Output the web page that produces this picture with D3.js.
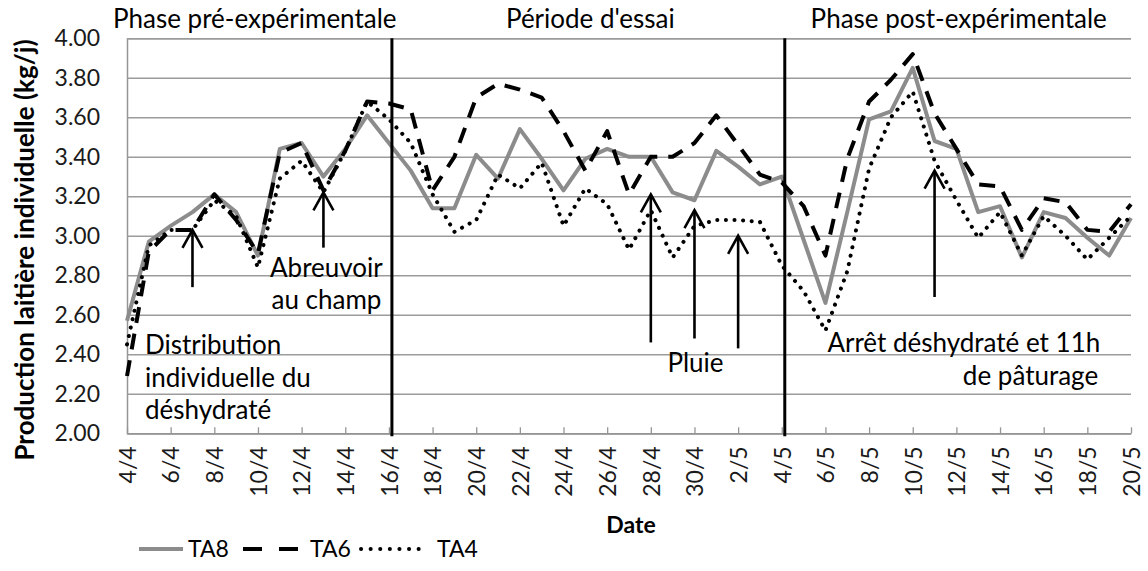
<!DOCTYPE html>
<html>
<head>
<meta charset="utf-8">
<script src="https://cdn.jsdelivr.net/npm/d3@7"></script>
<style>
  body { margin: 0; background: #fff; }
  text { font-family: Lato, "Open Sans", sans-serif; }
</style>
</head>
<body>
<div id="chart"></div>
<script>
// DATA
var dates = ["4/4", "5/4", "6/4", "7/4", "8/4", "9/4", "10/4", "11/4", "12/4", "13/4",
  "14/4", "15/4", "16/4", "17/4", "18/4", "19/4", "20/4", "21/4", "22/4", "23/4",
  "24/4", "25/4", "26/4", "27/4", "28/4", "29/4", "30/4", "1/5", "2/5", "3/5",
  "4/5", "5/5", "6/5", "7/5", "8/5", "9/5", "10/5", "11/5", "12/5", "13/5",
  "14/5", "15/5", "16/5", "17/5", "18/5", "19/5", "20/5"];

var ta8 = [2.57, 2.97, 3.05, 3.12, 3.21, 3.12, 2.90, 3.44, 3.47, 3.30,
  3.44, 3.61, 3.47, 3.33, 3.14, 3.14, 3.41, 3.29, 3.54, 3.39,
  3.23, 3.39, 3.44, 3.40, 3.40, 3.22, 3.18, 3.43, 3.35, 3.26,
  3.30, 2.98, 2.66, 3.12, 3.59, 3.63, 3.85, 3.48, 3.44, 3.12,
  3.15, 2.89, 3.12, 3.09, 2.99, 2.90, 3.09];

var ta6 = [2.29, 2.92, 3.03, 3.03, 3.21, 3.08, 2.91, 3.42, 3.47, 3.23,
  3.43, 3.68, 3.67, 3.64, 3.23, 3.40, 3.70, 3.77, 3.74, 3.70,
  3.53, 3.33, 3.53, 3.21, 3.40, 3.40, 3.47, 3.61, 3.46, 3.31,
  3.27, 3.15, 2.90, 3.39, 3.68, 3.79, 3.92, 3.62, 3.44, 3.26,
  3.25, 3.03, 3.19, 3.17, 3.03, 3.02, 3.16];

var ta4 = [2.45, 2.95, 3.03, 3.03, 3.18, 3.10, 2.84, 3.29, 3.38, 3.22,
  3.43, 3.68, 3.59, 3.47, 3.21, 3.02, 3.08, 3.31, 3.24, 3.37,
  3.05, 3.24, 3.16, 2.93, 3.13, 2.89, 3.05, 3.08, 3.08, 3.07,
  2.85, 2.72, 2.52, 2.82, 3.34, 3.60, 3.73, 3.38, 3.18, 2.99,
  3.12, 2.90, 3.10, 3.00, 2.88, 2.99, 3.10];

var yTicks = [2.0, 2.2, 2.4, 2.6, 2.8, 3.0, 3.2, 3.4, 3.6, 3.8, 4.0];
var xTickLabels = ["4/4", "6/4", "8/4", "10/4", "12/4", "14/4", "16/4", "18/4", "20/4",
  "22/4", "24/4", "26/4", "28/4", "30/4", "2/5", "4/5", "6/5", "8/5", "10/5",
  "12/5", "14/5", "16/5", "18/5", "20/5"];

var phaseBreaks = ["16/4", "4/5"];
var phaseNames = ["Phase pré-expérimentale", "Période d'essai", "Phase post-expérimentale"];

// arrows : date, value at tail, value at head
var arrows = [
  { date: "7/4", from: 2.74, to: 3.03 },
  { date: "13/4", from: 2.94, to: 3.22 },
  { date: "28/4", from: 2.46, to: 3.21 },
  { date: "30/4", from: 2.48, to: 3.13 },
  { date: "2/5", from: 2.43, to: 3.00 },
  { date: "11/5", from: 2.69, to: 3.33 }
];

var notes = [
  { date: "4/4", dx: 18, value: 2.40, anchor: "start", text: "Distribution" },
  { date: "4/4", dx: 18, value: 2.235, anchor: "start", text: "individuelle du" },
  { date: "4/4", dx: 18, value: 2.07, anchor: "start", text: "déshydraté" },
  { date: "13/4", dx: 3, value: 2.79, anchor: "middle", text: "Abreuvoir" },
  { date: "13/4", dx: 3, value: 2.63, anchor: "middle", text: "au champ" },
  { date: "30/4", dx: 1, value: 2.31, anchor: "middle", text: "Pluie" },
  { date: "6/5", dx: 2, value: 2.41, anchor: "start", text: "Arrêt déshydraté et 11h" },
  { date: "19/5", dx: -11, value: 2.245, anchor: "end", text: "de pâturage" }
];

var series = [
  { name: "TA8", values: ta8, color: "#8c8c8c", dash: null, legendDash: null, cap: "butt" },
  { name: "TA6", values: ta6, color: "#000", dash: "16,11", legendDash: "19,17", cap: "butt" },
  { name: "TA4", values: ta4, color: "#000", dash: "0.1,8.5", legendDash: "0.1,9.5", cap: "round" }
];

// CHART
var width = 1148, height = 571;
var plotLeft = 127, plotRight = 1131, plotTop = 38.3, plotBottom = 433.3;

var svg = d3.select("#chart").append("svg")
  .attr("width", width)
  .attr("height", height);

var x = d3.scalePoint().domain(dates).range([plotLeft, plotRight]);
var y = d3.scaleLinear().domain([2, 4]).range([plotBottom, plotTop]);

// y axis + gridlines
var yAxis = svg.append("g")
  .attr("transform", "translate(" + plotLeft + ",0)")
  .call(d3.axisLeft(y)
    .tickValues(yTicks)
    .tickFormat(d3.format(".2f"))
    .tickSize(-(plotRight - plotLeft))
    .tickPadding(27));
yAxis.select(".domain").attr("stroke", "#959595").attr("stroke-width", 1.5);
yAxis.selectAll(".tick line").attr("stroke", "#9c9c9c").attr("stroke-width", 1.5);
yAxis.selectAll(".tick text")
  .attr("fill", "#1a1a1a")
  .style("font-size", "23px");

// x axis
var xAxis = svg.append("g")
  .attr("transform", "translate(0," + plotBottom + ")")
  .call(d3.axisBottom(x)
    .tickValues(xTickLabels)
    .tickSizeInner(-6)
    .tickSizeOuter(0));
xAxis.select(".domain").attr("stroke", "#959595").attr("stroke-width", 1.5);
xAxis.selectAll(".tick line").attr("stroke", "#959595").attr("stroke-width", 1.3);
xAxis.selectAll(".tick text")
  .attr("transform", "rotate(-90)")
  .attr("text-anchor", "end")
  .attr("x", -13)
  .attr("y", 0)
  .attr("dy", "0.36em")
  .attr("fill", "#1a1a1a")
  .style("font-size", "23px");

// axis titles
svg.append("text")
  .attr("transform", "translate(34,250) rotate(-90)")
  .attr("text-anchor", "middle")
  .style("font-size", "26px")
  .style("font-weight", "bold")
  .text("Production laitière individuelle (kg/j)");

svg.append("text")
  .attr("x", (plotLeft + plotRight) / 2 + 2)
  .attr("y", 533)
  .attr("text-anchor", "middle")
  .style("font-size", "23px")
  .style("font-weight", "bold")
  .text("Date");

// series
var line = d3.line()
  .x(function (d, i) { return x(dates[i]); })
  .y(function (d) { return y(d); });

svg.selectAll(".serie")
  .data(series)
  .enter()
  .append("path")
  .attr("class", "serie")
  .attr("d", function (d) { return line(d.values); })
  .attr("fill", "none")
  .attr("stroke", function (d) { return d.color; })
  .attr("stroke-width", 4)
  .attr("stroke-linejoin", "round")
  .attr("stroke-linecap", function (d) { return d.cap; })
  .attr("stroke-dasharray", function (d) { return d.dash; });

// phase separators
svg.selectAll(".phase")
  .data(phaseBreaks)
  .enter()
  .append("line")
  .attr("x1", function (d) { return x(d) + 3; })
  .attr("x2", function (d) { return x(d) + 3; })
  .attr("y1", plotTop)
  .attr("y2", plotBottom + 3)
  .attr("stroke", "#000")
  .attr("stroke-width", 3);

// phase names
var phaseX = [plotLeft - 14, x("25/4") + 5, x("5/5") + 7];
var phaseAnchor = ["start", "middle", "start"];
svg.selectAll(".phasename")
  .data(phaseNames)
  .enter()
  .append("text")
  .attr("x", function (d, i) { return phaseX[i]; })
  .attr("y", 28)
  .attr("text-anchor", function (d, i) { return phaseAnchor[i]; })
  .style("font-size", "26px")
  .text(function (d) { return d; });

// arrows
var arr = svg.selectAll(".arrow")
  .data(arrows)
  .enter()
  .append("g")
  .attr("class", "arrow");
arr.append("line")
  .attr("x1", function (d) { return x(d.date); })
  .attr("x2", function (d) { return x(d.date); })
  .attr("y1", function (d) { return y(d.from); })
  .attr("y2", function (d) { return y(d.to) + 1; })
  .attr("stroke", "#000")
  .attr("stroke-width", 2.6);
arr.append("path")
  .attr("d", function (d) {
    var px = x(d.date), py = y(d.to);
    return "M" + (px - 10) + "," + (py + 18) + "L" + px + "," + py + "L" + (px + 10) + "," + (py + 18);
  })
  .attr("fill", "none")
  .attr("stroke", "#000")
  .attr("stroke-width", 2.6);

// notes
svg.selectAll(".note")
  .data(notes)
  .enter()
  .append("text")
  .attr("class", "note")
  .attr("x", function (d) { return x(d.date) + d.dx; })
  .attr("y", function (d) { return y(d.value); })
  .attr("text-anchor", function (d) { return d.anchor; })
  .style("font-size", "26px")
  .text(function (d) { return d.text; });

// legend
var legendX = [139, 243, 361];
var legendLen = [44, 55, 64];
var lg = svg.selectAll(".legend")
  .data(series)
  .enter()
  .append("g")
  .attr("class", "legend")
  .attr("transform", function (d, i) { return "translate(" + legendX[i] + ",549)"; });
lg.append("line")
  .attr("x1", 0)
  .attr("x2", function (d, i) { return legendLen[i]; })
  .attr("y1", 0)
  .attr("y2", 0)
  .attr("stroke", function (d) { return d.color; })
  .attr("stroke-width", 4)
  .attr("stroke-linecap", function (d) { return d.cap; })
  .attr("stroke-dasharray", function (d) { return d.legendDash; });
lg.append("text")
  .attr("x", function (d, i) { return legendLen[i] + (i == 0 ? 5 : 12); })
  .attr("dy", "0.36em")
  .style("font-size", "23px")
  .text(function (d) { return d.name; });
</script>
</body>
</html>
